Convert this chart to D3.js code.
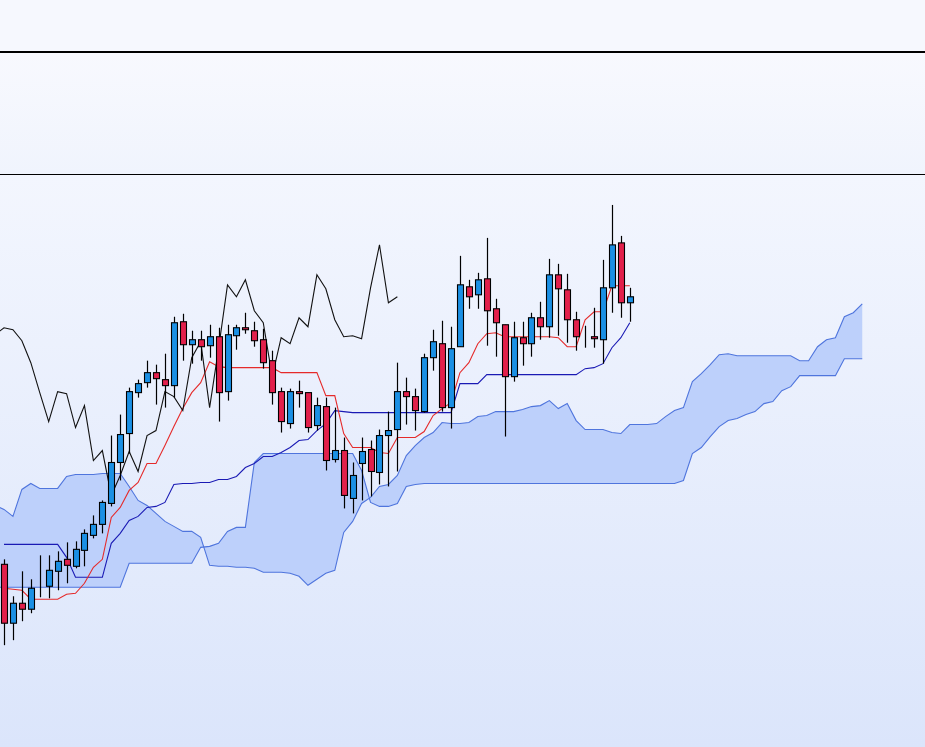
<!DOCTYPE html>
<html>
<head>
<meta charset="utf-8">
<script src="https://cdn.jsdelivr.net/npm/d3@7"></script>
<style>
  html, body { margin: 0; padding: 0; background: #f6f8fe; }
  svg { display: block; }
</style>
</head>
<body>
<div id="chart"></div>
<script>
// candle data (71 bars)
const opens  = [43.6,37.7,39.7,39.1,41.3,41.4,42.9,44.1,43.4,45.0,46.5,47.6,49.7,53.8,56.7,60.8,61.8,62.8,62.1,61.5,
                67.9,65.6,66.1,65.5,66.4,60.9,66.5,67.3,67.0,66.1,64.0,60.9,57.7,60.9,60.8,57.5,59.4,54.1,55.0,50.2,
                53.7,55.1,52.8,56.5,57.1,60.9,60.4,58.9,64.3,65.7,59.3,65.4,71.4,70.6,72.2,69.2,67.6,62.4,66.3,65.7,
                68.3,67.4,72.6,71.1,68.1,66.5,66.4,66.1,71.3,75.8,69.8];
const highs  = [44.1,40.4,42.9,42.1,44.5,44.5,44.9,45.8,45.9,47.1,48.5,50.0,56.5,58.6,61.3,62.1,64.0,63.6,64.7,68.4,
                68.7,67.0,67.0,67.6,67.3,67.6,67.6,68.8,67.9,67.2,65.0,61.3,61.2,62.0,60.8,60.3,60.3,59.3,56.3,53.8,
                56.3,56.0,57.1,58.9,63.8,62.3,61.2,64.7,67.1,68.0,67.4,74.5,72.1,72.8,76.3,70.2,67.6,67.9,67.9,68.8,
                69.9,74.2,73.7,72.7,68.9,67.5,69.3,74.1,79.6,76.5,71.3];
const lows   = [35.5,36.0,37.9,38.7,40.3,40.2,41.0,41.7,43.2,43.4,46.2,46.7,49.4,52.0,54.7,60.3,61.3,59.6,59.3,60.3,
                64.0,63.7,64.0,64.3,57.9,60.0,65.1,66.7,65.4,63.2,59.6,56.8,57.2,59.3,56.8,57.0,53.0,53.8,49.2,48.7,
                50.0,50.4,51.6,51.4,52.9,57.6,57.0,58.8,63.0,58.9,57.2,65.4,69.2,69.2,65.5,64.4,56.4,61.9,63.5,64.4,
                66.1,66.3,66.5,65.8,65.0,65.3,65.3,63.7,68.8,68.3,67.9];
const closes = [37.7,39.7,39.1,41.2,41.3,43.0,43.9,43.5,45.1,46.7,47.6,49.8,53.8,56.6,60.9,61.7,62.8,62.2,61.5,67.8,
                65.6,66.1,65.4,66.4,60.8,66.6,67.3,67.1,66.0,63.8,60.8,57.9,60.9,60.7,57.3,59.5,54.0,55.0,50.5,52.5,
                54.9,52.9,56.5,57.0,60.9,60.4,59.0,64.3,65.9,59.3,65.2,71.6,70.4,72.1,69.0,67.8,62.4,66.3,65.7,68.3,
                67.4,72.6,71.2,68.1,66.4,66.5,66.2,71.3,75.6,69.8,70.4];

// conversion line (tenkan) and base line (kijun), one value per bar
const tenkan = [41.2,41.1,41.0,40.1,40.1,40.1,40.1,40.6,40.7,41.7,43.3,44.1,48.3,49.3,51.0,51.8,53.7,53.7,55.5,57.4,
                59.2,60.8,61.8,63.9,63.4,63.3,63.3,63.3,63.3,63.3,63.3,62.8,62.8,62.8,62.8,62.8,60.5,60.5,56.7,55.3,
                55.3,55.3,54.8,54.7,56.3,56.3,56.3,56.9,58.5,59.2,59.8,62.8,63.8,65.7,66.7,66.8,66.4,66.4,66.4,66.4,
                66.4,66.4,66.3,65.4,65.4,68.1,68.9,68.9,71.5,71.5,71.5];
const kijun  = [45.6,45.6,45.6,45.6,45.6,45.6,45.6,44.3,42.3,42.3,42.3,42.3,45.7,46.7,48.0,48.4,49.3,49.4,49.8,51.6,
                51.7,51.7,51.8,51.8,52.1,52.1,52.4,53.3,53.7,54.4,54.4,54.8,55.3,56.0,56.1,57.0,57.7,59.0,58.9,58.8,
                58.8,58.8,58.8,58.8,58.8,58.8,58.8,58.8,58.8,58.8,58.8,61.7,61.7,61.7,62.6,62.6,62.6,62.6,62.6,62.6,
                62.6,62.6,62.6,62.6,62.6,63.2,63.3,63.7,65.3,66.3,67.8];

// leading spans, bar index -1 .. 96 (shifted 26 bars ahead)
const spanStart = -1;
const spanA = [49.5,49.1,48.4,51.1,51.7,51.2,51.2,51.2,52.4,52.6,52.6,52.6,52.7,52.7,52.7,51.4,50.0,49.5,48.7,47.9,
               47.4,46.9,46.9,46.3,43.5,43.4,43.4,43.3,43.3,43.2,42.8,42.8,42.8,42.7,42.4,41.5,42.1,42.7,43.0,46.8,
               47.9,49.7,50.3,51.4,51.6,52.5,54.5,55.5,56.3,56.8,57.8,57.7,57.7,57.8,58.4,58.5,58.9,58.9,58.9,59.1,
               59.4,59.5,60.0,59.2,59.7,58.0,57.1,57.1,57.1,56.8,56.7,57.6,57.6,57.6,57.7,58.4,59.0,59.3,61.9,62.7,
               63.6,64.6,64.7,64.5,64.5,64.5,64.5,64.5,64.5,64.5,64.0,64.0,65.4,66.1,66.3,68.4,68.8,69.7];
const spanB = [41.3,41.3,41.3,41.3,41.3,41.3,41.3,41.3,41.3,41.3,41.3,41.3,41.3,41.3,41.3,43.7,43.7,43.7,43.7,43.7,
               43.7,43.7,43.7,45.3,45.4,45.7,46.9,47.3,47.3,53.8,54.7,54.7,54.7,54.7,54.7,54.7,54.7,54.7,54.7,54.7,
               54.7,53.0,49.8,49.4,49.4,49.7,51.4,51.6,51.7,51.7,51.7,51.7,51.7,51.7,51.7,51.7,51.7,51.7,51.7,51.7,
               51.7,51.7,51.7,51.7,51.7,51.7,51.7,51.7,51.7,51.7,51.7,51.7,51.7,51.7,51.7,51.7,51.7,52.0,54.7,55.3,
               56.4,57.4,58.0,58.2,58.6,58.9,59.7,59.9,61.0,61.4,62.5,62.5,62.5,62.5,62.5,64.2,64.2,64.2];

// lagging span: close plotted 26 bars back
const lagShift = 26;

const W = 925, H = 747;
const panelTop = 53, mainTop = 175;

const svg = d3.select("#chart").append("svg")
    .attr("width", W).attr("height", H);

const defs = svg.append("defs");
const gMain = defs.append("linearGradient").attr("id", "bgMain")
    .attr("x1", 0).attr("y1", 0).attr("x2", 0).attr("y2", 1);
gMain.append("stop").attr("offset", "0%").attr("stop-color", "#f3f6fe");
gMain.append("stop").attr("offset", "100%").attr("stop-color", "#dbe5fb");
const gPanel = defs.append("linearGradient").attr("id", "bgPanel")
    .attr("x1", 0).attr("y1", 0).attr("x2", 0).attr("y2", 1);
gPanel.append("stop").attr("offset", "0%").attr("stop-color", "#f8f9fe");
gPanel.append("stop").attr("offset", "100%").attr("stop-color", "#f0f4fd");
defs.append("clipPath").attr("id", "clipMain").append("rect")
    .attr("x", 0).attr("y", mainTop).attr("width", W).attr("height", H - mainTop);

// backgrounds
svg.append("rect").attr("x", 0).attr("y", 0).attr("width", W).attr("height", panelTop)
    .attr("fill", "#f6f8fe");
svg.append("rect").attr("x", 0).attr("y", panelTop).attr("width", W).attr("height", mainTop - panelTop)
    .attr("fill", "url(#bgPanel)");
svg.append("rect").attr("x", 0).attr("y", mainTop).attr("width", W).attr("height", H - mainTop)
    .attr("fill", "url(#bgMain)");

// separators
svg.append("line").attr("x1", 0).attr("x2", W).attr("y1", 52).attr("y2", 52)
    .attr("stroke", "#000").attr("stroke-width", 2);
svg.append("line").attr("x1", 0).attr("x2", W).attr("y1", 174.5).attr("y2", 174.5)
    .attr("stroke", "#000").attr("stroke-width", 1);

// scales
const x = d3.scaleLinear().domain([0, 70]).range([4, 629.8]);
const y = d3.scaleLinear().domain([25.3, 82.6]).range([H, mainTop]);

const plot = svg.append("g").attr("clip-path", "url(#clipMain)");

// cloud
const cloud = spanA.map((a, k) => ({ i: k + spanStart, a: a, b: spanB[k] }));
plot.append("path").datum(cloud)
    .attr("d", d3.area().x(d => x(d.i)).y0(d => y(d.b)).y1(d => y(d.a)))
    .attr("fill", "#bdd0fb").attr("stroke", "none");
plot.append("path").datum(cloud)
    .attr("d", d3.line().x(d => x(d.i)).y(d => y(d.a)))
    .attr("fill", "none").attr("stroke", "#4f75dd").attr("stroke-width", 1.1);
plot.append("path").datum(cloud)
    .attr("d", d3.line().x(d => x(d.i)).y(d => y(d.b)))
    .attr("fill", "none").attr("stroke", "#4f75dd").attr("stroke-width", 1.1);

// kijun & tenkan
plot.append("path").datum(kijun)
    .attr("d", d3.line().x((d, i) => x(i)).y(d => y(d)))
    .attr("fill", "none").attr("stroke", "#1a1ab4").attr("stroke-width", 1.1);
plot.append("path").datum(tenkan)
    .attr("d", d3.line().x((d, i) => x(i)).y(d => y(d)))
    .attr("fill", "none").attr("stroke", "#e52a2a").attr("stroke-width", 1.1);

// chikou
const lag = closes.map((c, i) => ({ i: i - lagShift, v: c })).filter(d => d.i >= -1);
plot.append("path").datum(lag)
    .attr("d", d3.line().x(d => x(d.i)).y(d => y(d.v)))
    .attr("fill", "none").attr("stroke", "#111").attr("stroke-width", 1.1);

// candles
const bars = opens.map((o, i) => ({ i: i, o: o, h: highs[i], l: lows[i], c: closes[i] }));
const bw = 6;
const candle = plot.selectAll("g.candle").data(bars).enter().append("g").attr("class", "candle");
candle.append("line")
    .attr("x1", d => Math.round(x(d.i)) + 0.5).attr("x2", d => Math.round(x(d.i)) + 0.5)
    .attr("y1", d => y(d.h)).attr("y2", d => y(d.l))
    .attr("stroke", "#000").attr("stroke-width", 1.2);
candle.append("rect")
    .attr("x", d => Math.round(x(d.i)) + 0.5 - bw / 2)
    .attr("y", d => y(Math.max(d.o, d.c)))
    .attr("width", bw)
    .attr("height", d => Math.abs(y(d.o) - y(d.c)))
    .attr("fill", d => d.c >= d.o ? "#1b90e4" : "#e2204b")
    .attr("stroke", "#000").attr("stroke-width", 1.1);
</script>
</body>
</html>
